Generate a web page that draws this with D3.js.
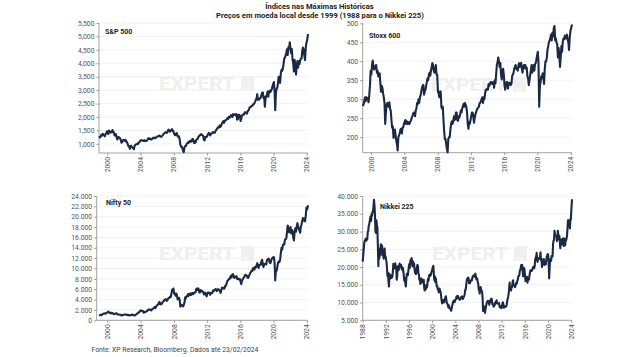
<!DOCTYPE html>
<html><head><meta charset="utf-8">
<script src="https://cdn.jsdelivr.net/npm/d3@7"></script>
<style>body{margin:0;background:#fff;}svg{display:block;font-family:Roboto,"Liberation Sans",Arial,sans-serif;}</style>
</head><body>
<svg id="c" width="639" height="357"></svg>
<script>
// ---------- DATA (monthly) ----------
const titleLines = ["Índices nas Máximas Históricas", "Preços em moeda local desde 1999 (1988 para o Nikkei 225)"];
const sourceText = "Fonte: XP Research, Bloomberg. Dados até 23/02/2024";
const endDate = "2024-02-23";

const sp500 = [
1280,1238,1286,1335,1302,1373,1329,1320,1283,1363,1389,1469,
1394,1366,1499,1452,1421,1455,1431,1518,1437,1429,1315,1320,
1366,1240,1160,1249,1256,1224,1211,1134,1041,1060,1139,1148,
1130,1107,1147,1077,1067,990,912,916,815,886,936,880,
856,841,800,917,964,975,990,1008,996,1051,1058,1112,
1131,1145,1126,1107,1121,1141,1102,1104,1115,1130,1174,1212,
1181,1204,1181,1157,1192,1191,1234,1220,1229,1207,1249,1248,
1280,1281,1295,1311,1270,1270,1277,1304,1336,1378,1401,1418,
1438,1407,1421,1482,1531,1503,1455,1474,1527,1549,1481,1468,
1379,1331,1323,1386,1400,1280,1267,1283,1166,969,896,903,
826,735,690,873,919,919,987,1021,1057,1036,1096,1115,
1074,1104,1169,1187,1089,1031,1102,1049,1141,1183,1181,1258,
1286,1327,1326,1364,1345,1321,1292,1150,1131,1253,1247,1258,
1312,1366,1408,1398,1310,1362,1379,1407,1441,1412,1416,1426,
1498,1515,1569,1598,1631,1606,1686,1633,1682,1757,1806,1848,
1783,1859,1872,1884,1924,1960,1931,2003,1972,2018,2068,2059,
1995,2105,2068,2086,2107,2063,2104,1900,1920,2079,2080,2044,
1850,1932,2060,2065,2097,2099,2174,2171,2168,2126,2199,2239,
2279,2364,2363,2384,2412,2423,2470,2472,2519,2575,2648,2674,
2850,2640,2641,2648,2705,2718,2816,2902,2914,2712,2760,2380,
2704,2784,2834,2946,2752,2942,2980,2926,2977,3038,3141,3231,
3300,2954,2250,2912,3044,3100,3271,3500,3363,3270,3622,3756,
3714,3811,3973,4181,4204,4298,4395,4523,4308,4605,4567,4780,
4516,4374,4530,4132,4000,3700,4130,3955,3580,3872,4080,3840,
4077,3970,4109,4169,4180,4450,4589,4508,4288,4120,4568,4770,
4846,5090];

const stoxx600 = [
282,288,295,305,295,305,300,303,292,310,335,375,
365,390,402,385,378,382,388,390,370,375,360,365,
368,340,320,335,330,315,305,290,235,265,285,290,
285,280,292,275,270,245,225,228,198,210,220,205,
190,180,165,200,205,210,220,222,210,225,226,235,
240,245,235,242,235,240,235,235,240,243,250,255,
260,265,263,255,270,275,290,287,300,290,305,310,
320,330,335,338,312,320,325,335,345,355,350,365,
370,362,375,385,395,390,375,370,375,390,365,365,
320,315,305,320,320,280,275,280,245,215,195,195,
180,168,160,195,200,200,220,235,242,235,240,255,
245,248,265,265,245,243,255,252,260,270,265,275,
282,288,280,290,285,280,265,235,222,240,235,245,
255,265,265,255,238,250,260,265,272,275,278,280,
290,290,295,300,305,290,305,300,315,325,325,328,
325,340,335,340,345,345,340,340,345,330,350,342,
367,392,397,410,400,385,395,365,352,375,380,365,
335,325,340,345,345,328,340,343,343,337,341,361,
365,370,380,385,390,380,380,375,388,395,385,389,
396,380,370,385,390,382,390,380,383,360,355,337,
350,365,375,390,370,385,390,375,392,395,405,415,
425,395,280,335,345,360,355,368,360,340,380,400,
400,410,430,440,450,455,460,470,455,475,465,487,
493,455,460,450,445,410,435,415,385,410,440,425,
452,460,458,468,460,461,470,458,450,430,462,479,
487,497];

const nifty50 = [
980,1000,1080,980,1130,1190,1280,1340,1320,1280,1400,1480,
1550,1680,1530,1400,1380,1470,1330,1400,1270,1170,1270,1260,
1370,1350,1150,1130,1120,1100,1060,1050,910,970,1060,1060,
1080,1140,1130,1080,1030,1060,960,1010,960,950,1030,1090,
1040,1050,980,930,1010,1130,1190,1350,1420,1550,1610,1880,
1910,1820,1770,1800,1480,1510,1630,1630,1750,1790,1960,2080,
2060,2100,2040,1900,2090,2220,2310,2380,2600,2370,2650,2840,
3000,3070,3400,3550,3070,3130,3140,3410,3590,3740,3950,3970,
4080,3750,3820,4090,4300,4320,4530,4460,5020,5900,5760,6140,
5140,5220,4730,5170,4870,4040,4330,4360,3920,2650,2760,2960,
2870,2700,3020,3470,4450,4290,4640,4660,5080,4710,5030,5200,
4880,4920,5250,5280,5090,5310,5370,5400,6030,6150,5860,6130,
5510,5330,5830,5750,5560,5650,5480,5000,5080,5330,4830,4620,
5200,5390,5300,5250,4920,5280,5230,5260,5700,5620,5880,5900,
6030,5690,5680,6000,5990,5840,5740,5300,5740,6300,6180,6300,
6090,6280,6700,6700,7230,7610,7720,7950,7960,8320,8590,8280,
8850,8900,8490,8180,8430,8370,8530,7970,7950,8070,7940,7950,
7400,6990,7740,7850,8160,8290,8640,8790,8610,8630,8220,8190,
8560,8880,9170,9300,9620,9520,10080,9920,9790,10340,10230,10530,
11030,10490,10110,10740,10740,10710,11360,11680,10930,10300,10880,10860,
10830,10790,11620,11750,11920,11790,11120,11020,11470,11880,12060,12170,
12200,11200,7700,9860,9580,10300,11070,11390,11250,11640,12970,13980,
13630,14530,14690,14630,15580,15720,15760,17130,18300,17670,16980,17350,
18000,16790,17460,17100,16000,15400,17160,17760,17090,18010,18760,18110,
17660,17300,16900,18070,18530,19190,19750,19250,19640,19080,20130,21730,
21400,22200];

const nikkei225 = [
21500,24000,25600,27000,27400,27700,28000,27400,27900,27800,29800,30160,
31600,31990,32840,33710,34270,33000,34950,34430,35640,35550,37270,38900,
37190,34590,29980,29590,33130,31940,31040,25980,20200,25190,22450,23850,
23290,26410,26290,26110,25790,23290,24120,22340,23920,25220,22690,22980,
22020,21340,19350,17390,18350,15950,14500,18060,17400,16770,17680,16920,
17020,17300,18590,20920,20550,19590,20380,21030,20100,19700,16410,17420,
20230,19990,19110,19730,20970,20640,20450,20630,19560,19990,19080,19720,
18650,17050,16140,16810,15440,14520,16680,18120,17910,17650,18740,19870,
20810,19710,21410,22040,21960,22530,20690,20170,21560,20470,21020,19360,
18330,18560,18000,19150,20070,20600,20330,18230,17890,16460,16630,15260,
16630,16830,16530,15640,15670,15830,16380,14110,13410,13560,14880,13840,
14500,14370,15840,16700,16110,17530,17860,17440,17600,17940,18560,18930,
19540,19960,20340,17970,16330,17410,15730,16860,15750,14540,14650,13790,
13840,12880,12990,13930,13260,12970,11860,10710,9770,10370,10700,10540,
9990,10590,11020,11490,11760,10620,9880,9620,9380,8640,9220,8580,
8340,8360,7970,7700,8420,9080,9560,10340,10220,10560,10100,10680,
10780,11040,11720,11760,11240,11860,11330,11080,10820,10770,10900,11490,
11390,11740,11670,11010,11280,11580,11900,12410,13570,13610,14870,16110,
16650,16210,17060,16910,15470,15510,15460,16140,16130,16400,16270,17230,
17380,17600,17290,17400,17880,18140,17250,16570,16790,16740,15680,15310,
13590,13600,12530,13850,14340,13480,13380,13070,11260,7600,8510,8860,
7990,7100,8110,8830,9520,9960,10360,10490,10130,10030,9350,10550,
10200,10130,11090,11060,9770,9380,9540,8820,9370,9200,9940,10230,
10240,10620,9760,9850,9690,9820,9830,8960,8700,8990,8430,8460,
8800,9720,10080,9520,8540,9010,8700,8840,8870,8930,9450,10400,
11140,11560,12400,13860,15600,13680,13670,13390,14460,14330,15660,16290,
14910,14840,14830,14300,14630,15160,15620,15420,16170,16410,17460,17450,
17670,18800,19210,19520,20560,20240,20590,18890,17390,19080,19750,19030,
17520,16030,16760,16670,17230,15580,16570,16890,16450,17430,18310,19110,
19040,19120,18910,19200,19650,20030,19930,19650,20360,22010,22720,22760,
24000,22070,21450,22470,22200,22300,22550,22870,24120,21920,22350,20010,
20770,21390,21210,22260,20600,21280,21520,20700,21760,22930,23290,23660,
23210,21140,16800,20190,21880,22290,21710,23140,23190,22980,26430,27440,
27660,30200,29180,28810,28860,28790,27280,28090,30200,28890,27820,28790,
27000,25300,27820,26850,27280,26390,27800,28090,25940,27590,27970,26090,
27330,27450,28040,28860,30890,33190,33170,32620,31860,30860,33490,33460,
36290,39100];

const panelNames = ["S&P 500", "Stoxx 600", "Nifty 50", "Nikkei 225"];
const startYears = [1999, 1999, 1999, 1988];
const yTicks = [
  [1000,1500,2000,2500,3000,3500,4000,4500,5000,5500],
  [200,250,300,350,400,450,500],
  [0,2000,4000,6000,8000,10000,12000,14000,16000,18000,20000,22000,24000],
  [5000,10000,15000,20000,25000,30000,35000,40000]
];
const yDomains = [[660,5500],[159,500],[0,24000],[5000,40000]];
const xTickYears = [
  [2000,2004,2008,2012,2016,2020,2024],
  [2000,2004,2008,2012,2016,2020,2024],
  [2000,2004,2008,2012,2016,2020,2024],
  [1988,1992,1996,2000,2004,2008,2012,2016,2020,2024]
];
const xStarts = ["1999-01-01","1999-01-01","1998-09-20","1988-01-01"];
const seriesList = [sp500, stoxx600, nifty50, nikkei225];

// ---------- LAYOUT ----------
const boxes = [
  {l:99,   r:308, t:23,  b:153,   name:[105,34],  wm:[159,90]},
  {l:362.7,r:572, t:23.3,b:152.7, name:[369,37.5],wm:[431,91]},
  {l:96.7, r:308, t:196, b:320.3, name:[106,205], wm:[159,260]},
  {l:362.7,r:572, t:196, b:320.3, name:[380,208.5],wm:[432,260]}
];
const lineColor = "#1b2a44";
const fmtComma = d3.format(",");
const fmts = [d=>fmtComma(d), d=>String(d), d=>fmtComma(d).replace(/,/g,"."), d=>fmtComma(d).replace(/,/g,".")];

const svg = d3.select("#c");
const parse = d3.timeParse("%Y-%m-%d");
const end = parse(endDate);

svg.append("text").attr("x",319.5).attr("y",8.5).attr("text-anchor","middle")
  .attr("font-size",7.6).attr("font-weight",700).attr("fill","#222").text(titleLines[0]);
svg.append("text").attr("x",320).attr("y",17.5).attr("text-anchor","middle")
  .attr("font-size",7.6).attr("font-weight",700).attr("fill","#222").text(titleLines[1]);

boxes.forEach((bx, k) => {
  const g = svg.append("g");
  const x = d3.scaleTime().domain([parse(xStarts[k]), end]).range([bx.l, bx.r]);
  const y = d3.scaleLinear().domain(yDomains[k]).range([bx.b, bx.t]);
  const vals = seriesList[k];
  const data = vals.map((v,i) => ({
    date: i === vals.length-1 ? end : d3.timeDay.offset(d3.timeMonth.offset(new Date(startYears[k],0,1), i), 14),
    v
  }));
  data[0].date = new Date(startYears[k],0,1);

  // gridlines
  g.append("g").selectAll("line").data(yTicks[k]).join("line")
    .attr("x1",bx.l).attr("x2",bx.r).attr("y1",d=>y(d)).attr("y2",d=>y(d))
    .attr("stroke","#eeeeee").attr("stroke-width",0.8);

  // watermark
  const wm = g.append("g").attr("fill","#efefef");
  wm.append("text").attr("x",bx.wm[0]).attr("y",bx.wm[1]).attr("font-size",18).attr("font-weight",700)
    .attr("textLength",76).attr("lengthAdjust","spacingAndGlyphs").text("EXPERT");
  wm.append("rect").attr("x",bx.wm[0]+82).attr("y",bx.wm[1]-14).attr("width",13).attr("height",15).attr("fill","#f0f0f0");
  wm.append("text").attr("x",bx.wm[0]+84).attr("y",bx.wm[1]+1).attr("font-size",7).attr("fill","#fbfbfb").text("xp");

  // y axis
  const ya = g.append("g").attr("transform",`translate(${bx.l},0)`)
    .call(d3.axisLeft(y).tickValues(yTicks[k]).tickFormat(fmts[k]).tickSize(2.5).tickPadding(2));
  ya.select(".domain").remove();
  ya.selectAll("line").attr("stroke","#999");
  ya.selectAll("text").attr("font-size",6.8).attr("fill","#555").attr("font-family","Roboto,Arial,sans-serif");
  g.append("line").attr("x1",bx.l).attr("x2",bx.l).attr("y1",bx.t).attr("y2",bx.b).attr("stroke","#999").attr("stroke-width",0.9);

  // x axis
  const xa = g.append("g").attr("transform",`translate(0,${bx.b})`)
    .call(d3.axisBottom(x).tickValues(xTickYears[k].map(yv=>new Date(yv,0,1))).tickFormat(d3.timeFormat("%Y")).tickSize(2.5).tickPadding(2));
  xa.select(".domain").remove();
  xa.selectAll("line").attr("stroke","#999");
  xa.selectAll("text").attr("font-size",6.8).attr("fill","#555").attr("font-family","Roboto,Arial,sans-serif")
    .attr("text-anchor","end").attr("dy","0.32em").attr("transform","rotate(-90)")
    .attr("x",-4).attr("y",0);
  g.append("line").attr("x1",bx.l).attr("x2",bx.r).attr("y1",bx.b).attr("y2",bx.b).attr("stroke","#999").attr("stroke-width",0.9);

  // series line
  g.append("path").datum(data)
    .attr("d", d3.line().x(d=>x(d.date)).y(d=>y(d.v)))
    .attr("fill","none").attr("stroke",lineColor).attr("stroke-width",2.1).attr("stroke-linejoin","round");

  // panel name
  g.append("text").attr("x",bx.name[0]).attr("y",bx.name[1]).attr("font-size",7).attr("font-weight",700)
    .attr("fill","#222").text(panelNames[k]);
});

svg.append("text").attr("x",91.5).attr("y",351.5).attr("font-size",6.8).attr("fill","#444").text(sourceText);
</script>
</body></html>
